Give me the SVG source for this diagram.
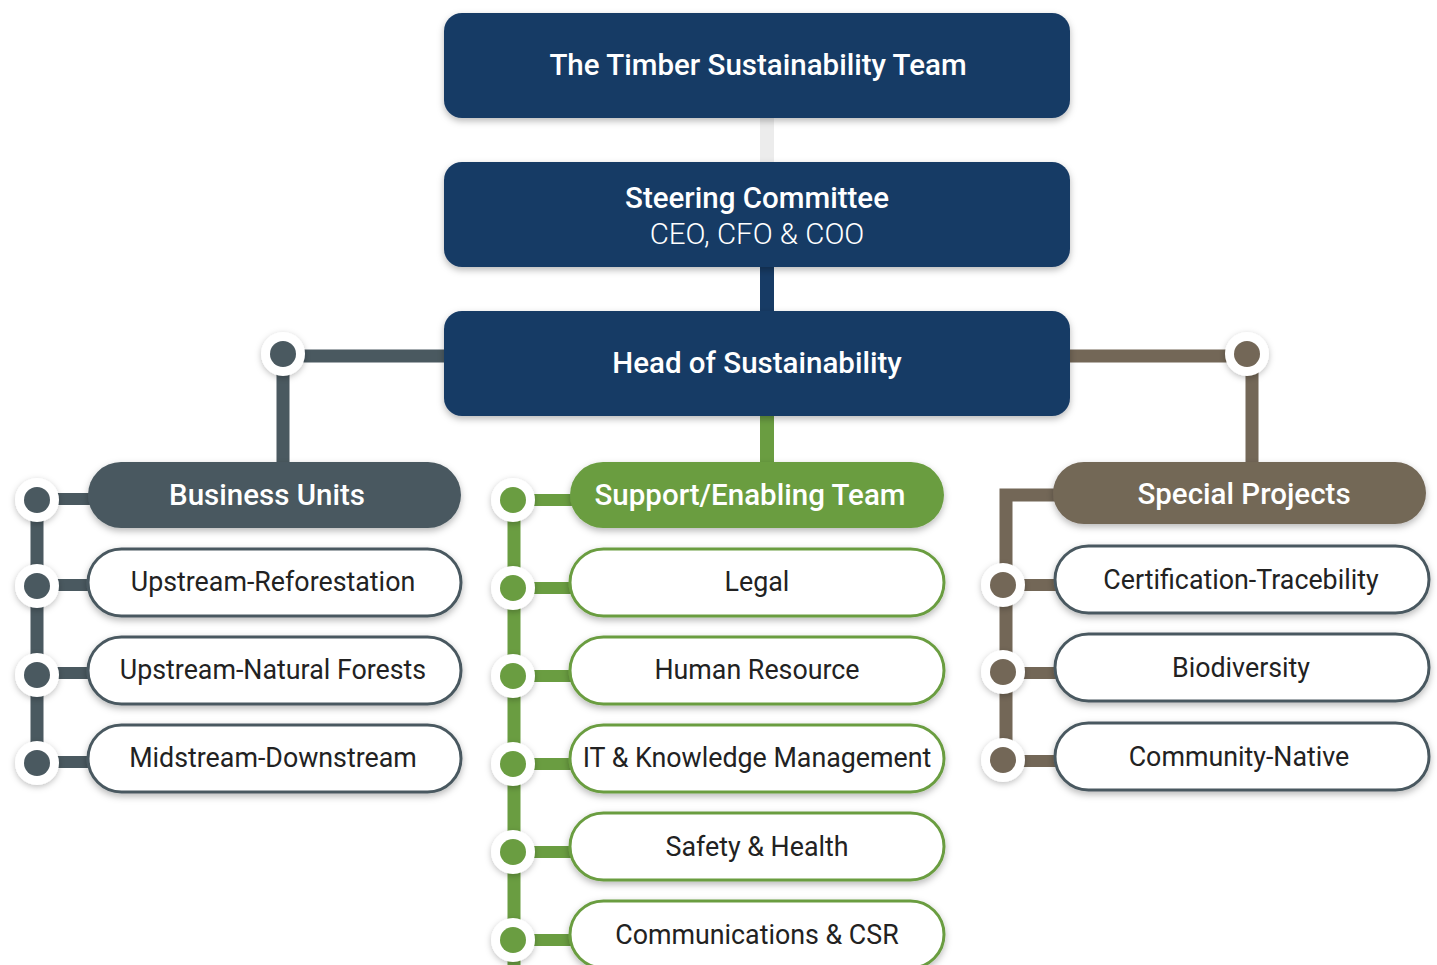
<svg xmlns="http://www.w3.org/2000/svg" width="1437" height="965" viewBox="0 0 1437 965">
<defs>
<filter id="sh" x="-20%" y="-30%" width="140%" height="170%">
<feDropShadow dx="0" dy="3" stdDeviation="3.5" flood-color="#000" flood-opacity="0.28"/>
</filter>
<filter id="shc" x="-60%" y="-60%" width="220%" height="220%">
<feDropShadow dx="0" dy="2" stdDeviation="3" flood-color="#000" flood-opacity="0.25"/>
</filter>
</defs>
<style>
text{font-family:Roboto,"Liberation Sans",sans-serif;text-anchor:middle}
.nv{fill:#173b65}
.hd{fill:#fff;font-size:29.5px;font-weight:500}
.sub{fill:#fff;font-size:29.5px;font-weight:300}
.it{fill:#222;font-size:26.8px;font-weight:400}
.ring{fill:#fff;filter:url(#shc)}
.ln{fill:none;stroke-linejoin:miter;stroke-linecap:butt}
.slate{stroke:#4a5960}
.green{stroke:#6a9d41}
.brown{stroke:#736757}
.pw{fill:#fff;stroke-width:3}
</style>
<g id="connectors">
<line x1="767" y1="112" x2="767" y2="166" stroke="#ececec" stroke-width="14"/>
<line x1="767" y1="262" x2="767" y2="315" stroke="#173b65" stroke-width="14"/>
<line x1="767" y1="410" x2="767" y2="466" stroke="#6a9d41" stroke-width="14"/>
<path class="ln slate" d="M450 356 H283 V466" stroke-width="13"/>
<path class="ln brown" d="M1064 356 H1252 V466" stroke-width="13"/>
<path class="ln slate" d="M37 500 V762" stroke-width="13"/>
<g class="ln slate" stroke-width="12">
<line x1="37" y1="499" x2="92" y2="499"/>
<line x1="37" y1="585" x2="92" y2="585"/>
<line x1="37" y1="673" x2="92" y2="673"/>
<line x1="37" y1="762" x2="92" y2="762"/>
</g>
<path class="ln green" d="M514 500 V965" stroke-width="13"/>
<g class="ln green" stroke-width="12">
<line x1="514" y1="500" x2="574" y2="500"/>
<line x1="514" y1="588" x2="574" y2="588"/>
<line x1="514" y1="676" x2="574" y2="676"/>
<line x1="514" y1="764" x2="574" y2="764"/>
<line x1="514" y1="852" x2="574" y2="852"/>
<line x1="514" y1="940" x2="574" y2="940"/>
</g>
<path class="ln brown" d="M1058 495 H1006 V761" stroke-width="13"/>
<g class="ln brown" stroke-width="12">
<line x1="1003" y1="585" x2="1059" y2="585"/>
<line x1="1003" y1="673" x2="1059" y2="673"/>
<line x1="1003" y1="761" x2="1059" y2="761"/>
</g>
<g>
<circle class="ring" cx="283" cy="354" r="22"/><circle cx="283" cy="354" r="13" fill="#4a5960"/>
<circle class="ring" cx="1247" cy="354" r="22"/><circle cx="1247" cy="354" r="13" fill="#736757"/>
<circle class="ring" cx="37" cy="500" r="22"/><circle cx="37" cy="500" r="13" fill="#4a5960"/>
<circle class="ring" cx="37" cy="586" r="22"/><circle cx="37" cy="586" r="13" fill="#4a5960"/>
<circle class="ring" cx="37" cy="675" r="22"/><circle cx="37" cy="675" r="13" fill="#4a5960"/>
<circle class="ring" cx="37" cy="763" r="22"/><circle cx="37" cy="763" r="13" fill="#4a5960"/>
<circle class="ring" cx="513" cy="500" r="22"/><circle cx="513" cy="500" r="13" fill="#6a9d41"/>
<circle class="ring" cx="513" cy="588" r="22"/><circle cx="513" cy="588" r="13" fill="#6a9d41"/>
<circle class="ring" cx="513" cy="676" r="22"/><circle cx="513" cy="676" r="13" fill="#6a9d41"/>
<circle class="ring" cx="513" cy="764" r="22"/><circle cx="513" cy="764" r="13" fill="#6a9d41"/>
<circle class="ring" cx="513" cy="852" r="22"/><circle cx="513" cy="852" r="13" fill="#6a9d41"/>
<circle class="ring" cx="513" cy="940" r="22"/><circle cx="513" cy="940" r="13" fill="#6a9d41"/>
<circle class="ring" cx="1003" cy="585" r="22"/><circle cx="1003" cy="585" r="13" fill="#736757"/>
<circle class="ring" cx="1003" cy="672" r="22"/><circle cx="1003" cy="672" r="13" fill="#736757"/>
<circle class="ring" cx="1003" cy="760" r="22"/><circle cx="1003" cy="760" r="13" fill="#736757"/>
</g>
</g>
<g id="n-top"><rect class="nv" x="444" y="13" width="626" height="105" rx="18" filter="url(#sh)"/><text class="hd" x="758" y="75">The Timber Sustainability Team</text></g>
<g id="n-steering"><rect class="nv" x="444" y="162" width="626" height="105" rx="18" filter="url(#sh)"/><text class="hd" x="757" y="208">Steering Committee</text><text class="sub" x="757" y="244">CEO, CFO &amp; COO</text></g>
<g id="n-head"><rect class="nv" x="444" y="311" width="626" height="105" rx="18" filter="url(#sh)"/><text class="hd" x="757" y="373">Head of Sustainability</text></g>
<g id="n-bu"><rect x="88" y="462" width="373" height="66" rx="33" fill="#4a5960" filter="url(#sh)"/><text class="hd" x="267" y="505">Business Units</text></g>
<g id="n-support"><rect x="570" y="462" width="374" height="66" rx="33" fill="#6a9d41" filter="url(#sh)"/><text class="hd" x="750" y="505">Support/Enabling Team</text></g>
<g id="n-special"><rect x="1053" y="462" width="373" height="62" rx="31" fill="#736757" filter="url(#sh)"/><text class="hd" x="1244" y="504">Special Projects</text></g>
<g id="n-up-ref"><rect class="pw slate" x="88" y="549" width="373" height="67" rx="33.5" filter="url(#sh)"/><text class="it" x="273" y="591">Upstream-Reforestation</text></g>
<g id="n-up-nat"><rect class="pw slate" x="88" y="637" width="373" height="67" rx="33.5" filter="url(#sh)"/><text class="it" x="273" y="679">Upstream-Natural Forests</text></g>
<g id="n-mid"><rect class="pw slate" x="88" y="725" width="373" height="67" rx="33.5" filter="url(#sh)"/><text class="it" x="273" y="767">Midstream-Downstream</text></g>
<g id="n-legal"><rect class="pw green" x="570" y="549" width="374" height="67" rx="33.5" filter="url(#sh)"/><text class="it" x="757" y="591">Legal</text></g>
<g id="n-hr"><rect class="pw green" x="570" y="637" width="374" height="67" rx="33.5" filter="url(#sh)"/><text class="it" x="757" y="679">Human Resource</text></g>
<g id="n-it"><rect class="pw green" x="570" y="725" width="374" height="67" rx="33.5" filter="url(#sh)"/><text class="it" x="757" y="767">IT &amp; Knowledge Management</text></g>
<g id="n-safety"><rect class="pw green" x="570" y="813" width="374" height="67" rx="33.5" filter="url(#sh)"/><text class="it" x="757" y="856">Safety &amp; Health</text></g>
<g id="n-comm"><rect class="pw green" x="570" y="901" width="374" height="67" rx="33.5" filter="url(#sh)"/><text class="it" x="757" y="944">Communications &amp; CSR</text></g>
<g id="n-cert"><rect class="pw slate" x="1055" y="546" width="374" height="67" rx="33.5" filter="url(#sh)"/><text class="it" x="1241" y="589">Certification-Tracebility</text></g>
<g id="n-bio"><rect class="pw slate" x="1055" y="634" width="374" height="67" rx="33.5" filter="url(#sh)"/><text class="it" x="1241" y="677">Biodiversity</text></g>
<g id="n-comm-native"><rect class="pw slate" x="1055" y="723" width="374" height="67" rx="33.5" filter="url(#sh)"/><text class="it" x="1239" y="766">Community-Native</text></g>
</svg>
